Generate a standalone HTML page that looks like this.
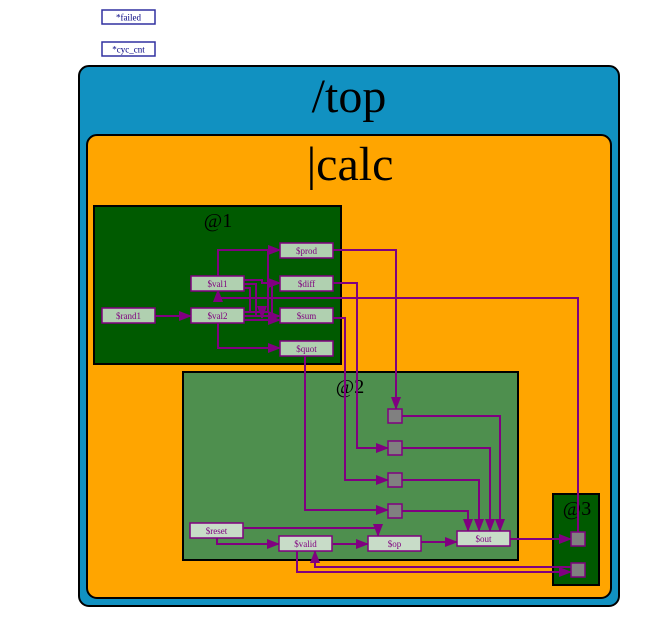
<!DOCTYPE html>
<html><head><meta charset="utf-8"><style>
html,body{margin:0;padding:0;background:#fff;width:662px;height:618px;overflow:hidden}
text{font-family:"Liberation Serif",serif}
</style></head><body>
<svg id="g" width="662" height="618" viewBox="0 0 662 618" xmlns="http://www.w3.org/2000/svg">
<defs><marker id="ar" markerWidth="13" markerHeight="10" refX="12" refY="5" orient="auto" markerUnits="userSpaceOnUse"><path d="M0,0 L13,5 L0,10 z" fill="#800080"/></marker></defs>
<g><rect x="102" y="10" width="53" height="14" fill="#fff" stroke="#3030a0" stroke-width="1.5"/><text x="128.5" y="20.5" font-size="9" text-anchor="middle" fill="#000080">*failed</text></g>
<g><rect x="102" y="42" width="53" height="14" fill="#fff" stroke="#3030a0" stroke-width="1.5"/><text x="128.5" y="52.5" font-size="9" text-anchor="middle" fill="#000080">*cyc_cnt</text></g>
<g><rect x="79" y="66" width="540" height="540" rx="10" fill="#1191c1" stroke="#000" stroke-width="2"/><text x="349" y="112" font-size="48" text-anchor="middle">/top</text></g>
<g><rect x="87" y="135" width="524" height="463" rx="10" fill="#ffa500" stroke="#000" stroke-width="2"/><text x="350" y="180" font-size="48" text-anchor="middle">|calc</text></g>
<g><rect x="94" y="206" width="247" height="158" fill="#005a00" stroke="#000" stroke-width="2"/><text x="218" y="227" font-size="20" text-anchor="middle">@1</text></g>
<g><rect x="183" y="372" width="335" height="188" fill="#4e8f4e" stroke="#000" stroke-width="2"/><text x="350" y="393" font-size="20" text-anchor="middle">@2</text></g>
<g><rect x="553" y="494" width="46" height="91" fill="#005a00" stroke="#000" stroke-width="2"/><text x="577" y="515" font-size="20" text-anchor="middle">@3</text></g>
<g id="edges" fill="none" stroke="#800080" stroke-width="2"></g>
<g id="nodes"></g>
</svg>
<script>
const S='http://www.w3.org/2000/svg';
const nodes=[
['prod',280,243,'#b0d0b0'],['diff',280,276,'#b0d0b0'],['sum',280,308,'#b0d0b0'],['quot',280,341,'#b0d0b0'],
['val1',191,276,'#b0d0b0'],['val2',191,308,'#b0d0b0'],['rand1',102,308,'#b0d0b0'],
['reset',190,523,'#c8dcc8'],['valid',279,536,'#c8dcc8'],['op',368,536,'#c8dcc8'],['out',457,531,'#c8dcc8']];
const squares=[[388,409],[388,441],[388,473],[388,504],[571,532],[571,563]];
const edges=[
'M155,316 H191','M218,276 V250 H280','M218,323 V348 H280',
'M244,280 H262 V283 H280','M244,284 H256 V316 H280','M244,312 H268 V250 H280','M244,316 H272 V283 H280','M244,320 H280',
'M244,288 H250 V312 H262 V318',
'M333,250 H396 V409','M333,283 H357 V448 H388','M333,318 H345 V480 H388','M305,356 V510 H388',
'M402,416 H500 V531','M402,448 H490 V531','M402,480 H479 V531','M402,511 H468 V531',
'M510,539 H571','M578,532 V298 H218 V290',
'M244,528 H378 V536','M217,538 V544 H279','M333,544 H368','M421,542 H457',
'M297,551 V572 H571','M571,567 H315 V551'];
const eg=document.getElementById('edges');
edges.forEach(d=>{const p=document.createElementNS(S,'path');p.setAttribute('d',d);p.setAttribute('marker-end','url(#ar)');


eg.appendChild(p);});
const ng=document.getElementById('nodes');
nodes.forEach(n=>{const g=document.createElementNS(S,'g');


const r=document.createElementNS(S,'rect');r.setAttribute('x',n[1]);r.setAttribute('y',n[2]);r.setAttribute('width',53);r.setAttribute('height',15);r.setAttribute('fill',n[3]);r.setAttribute('stroke','#800080');r.setAttribute('stroke-width','1.5');
const t=document.createElementNS(S,'text');t.setAttribute('x',n[1]+26.5);t.setAttribute('y',n[2]+11);t.setAttribute('font-size','9');t.setAttribute('text-anchor','middle');t.setAttribute('fill','#800080');t.textContent='$'+n[0];
g.appendChild(r);g.appendChild(t);ng.appendChild(g);});
squares.forEach(s=>{const r=document.createElementNS(S,'rect');r.setAttribute('x',s[0]);r.setAttribute('y',s[1]);r.setAttribute('width',14);r.setAttribute('height',14);r.setAttribute('fill','#808080');r.setAttribute('stroke','#800080');r.setAttribute('stroke-width','1.5');


ng.appendChild(r);});
</script>
</body></html>
